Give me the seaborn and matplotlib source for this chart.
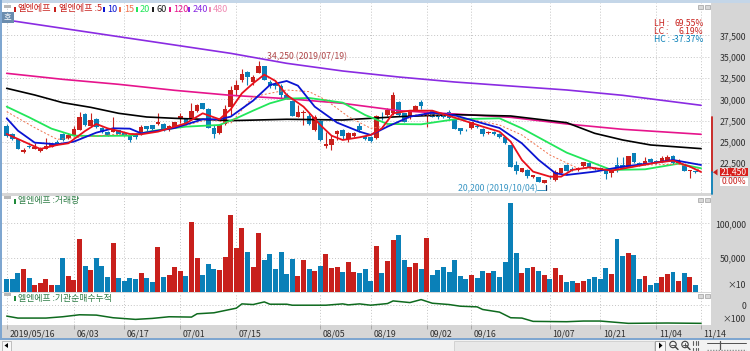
import matplotlib
matplotlib.use("Agg")
import matplotlib.pyplot as plt
from matplotlib.patches import Rectangle, Circle
import seaborn as sns

# --- DATA ---
opens = [26900,25900,25350,23800,24550,24200,24000,24200,24450,25050,25950,25450,25750,26450,28300,26850,27650,26650,26150,26200,
         26350,26050,25700,25950,25950,26850,26950,27100,27100,26500,26700,27650,27650,27700,28600,29550,28850,26650,26000,27150,
         29100,31150,32250,33200,32000,33100,33900,32000,31750,31550,30500,29850,27950,28450,28000,26400,27500,24550,24650,25900,
         26400,25300,25650,26900,25650,25600,25450,27950,28150,28350,29700,28350,27950,28700,29700,28150,28650,28200,28150,28550,
         27600,26600,26450,26650,26900,26500,26000,26200,25900,25550,24650,22250,21500,21750,20850,20900,20250,20800,20550,21400,
         22350,21850,21700,22200,22500,22000,21900,21700,21400,22250,22300,22100,23650,22500,22400,23050,22750,22700,22800,23350,
         22500,22300,21600,21600,21450]
highs = [27100,26000,25350,24250,24600,24850,24400,25450,24850,25250,26000,26000,26900,28550,28400,28350,27800,26700,26250,27950,
         26400,26100,25800,26000,27000,26900,27000,28350,27200,27000,27400,28350,27750,29600,29450,29600,28950,27000,27050,29350,
         31550,32250,33500,33300,32850,34500,33950,32250,32000,31800,30700,29900,29350,28750,28350,28150,27600,26200,25800,26400,
         26500,26200,26200,27200,25750,25700,28150,28550,28950,30800,29800,28450,28700,29350,29900,28550,28750,28300,28250,28800,
         27700,26650,26550,27400,27100,26600,26250,26300,26050,25700,24700,22800,21950,21850,21150,20950,20550,21000,21700,22000,
         22400,22050,22050,22650,22600,22100,22050,21850,21800,23200,23250,23400,23750,22700,23250,23150,22900,23300,23500,23450,
         22950,22400,21750,21650,21450]
lows = [25600,25250,24150,23700,24250,24150,23850,24150,24400,24700,25150,25300,25700,26400,26850,26800,26650,26100,25650,26150,
        25900,25750,25050,25350,25800,26300,26450,26950,26250,26300,26650,27200,27100,27550,28500,28850,26600,25450,25950,26950,
        28150,30500,32050,31700,31700,33050,32250,31300,31250,30100,30050,28050,27900,27000,27000,26300,25150,24250,24050,25250,
        25300,25050,25550,26200,25250,25050,25300,27600,28050,28150,28100,27300,27700,28650,28850,26800,27900,27750,27800,27750,
        26500,25950,26250,26550,26650,25700,25950,25800,25500,24800,22100,21250,21450,20750,20800,20300,20200,20650,20400,21350,
        21550,21550,21550,22100,22050,21700,21700,20650,20950,21500,21850,22050,22550,22200,22350,22650,22450,22600,22750,22450,
        22450,21600,20800,21350,21450]
closes = [25750,25300,24200,24100,24400,24450,24350,24550,24800,24750,25200,25850,26500,27950,27000,27550,26700,26150,25700,26600,
          25950,25800,25250,25550,26750,26550,26500,27300,26450,26900,27300,28050,27200,28650,29300,28850,26650,25950,26950,28850,
          31100,31650,33000,32650,32600,33900,32250,31550,31550,30500,30100,28100,28550,28550,27150,27950,25250,24750,25300,26300,
          25650,26000,26100,26400,25300,25150,28100,27900,28800,30450,28150,27400,28600,29250,29200,28350,27900,27950,27950,27800,
          26500,26300,26350,27350,26700,25950,26150,25950,25550,24900,22100,21600,21900,21000,21100,20300,20500,20750,21500,22000,
          21550,21700,22000,22600,22100,21850,21800,21250,21600,21850,21900,23350,22600,22300,22800,22700,22600,23150,23200,22500,
          22800,21600,21700,21450,21450]
# volume in thousands (axis shows x10)
volume = [18.4,19.4,27.2,33.0,20.4,10.7,13.6,18.4,10.7,9.7,50.0,23.3,17.5,76.6,37.3,31.5,49.0,38.3,21.3,71.8,
          20.4,15.5,20.4,19.4,27.2,20.4,14.6,65.5,21.3,25.2,35.9,30.1,23.3,102.8,49.0,24.3,41.2,33.0,32.0,50.9,
          113.0,64.5,93.1,58.7,35.9,86.3,47.0,55.8,33.0,58.7,26.2,48.0,23.3,47.0,33.0,30.1,37.3,54.8,34.9,35.9,
          29.1,44.1,29.1,28.1,33.0,15.5,67.4,28.1,45.1,75.2,83.4,46.1,35.9,42.2,34.0,78.6,25.2,31.5,35.9,29.1,
          47.0,23.3,19.4,25.2,20.4,30.1,28.1,30.6,21.3,43.2,130.5,56.7,27.2,34.9,35.9,30.1,25.2,18.4,34.9,25.2,
          14.6,15.5,13.6,16.5,19.4,21.3,18.4,34.9,26.2,77.1,51.9,56.7,53.8,19.4,23.3,10.7,13.6,22.3,26.2,29.1,
          16.5,28.1,22.3,10.7,0.0]

ma5_idx = [0,2,4,6,9,11,14,16,18,20,22,24,27,29,32,35,38,40,42,44,46,48,50,53,56,58,60,63,65,67,69,72,76,80,85,88,90,92,94,97,99,101,104,108,112,116,119,122,124]
ma5 = [25938,25352,24766,24180,24649,24844,26289,27110,26602,26289,25938,25899,26211,26602,27188,28360,27660,28828,30703,31875,32891,32149,30508,29141,26993,25742,25235,25547,25821,26602,28360,28672,28672,27852,26797,26211,25040,22891,21524,20938,20938,21719,22032,21641,22110,22579,22813,22110,21485]
ma10_idx = [0,2,5,9,12,16,19,22,24,27,30,35,38,40,44,47,50,52,55,59,63,65,68,72,76,80,85,88,92,95,98,100,105,110,115,119,124]
ma10 = [27774,26328,24922,24727,25040,26094,26602,26563,26016,26328,26641,27660,27660,27969,29844,31680,32149,31602,29141,27266,26211,25821,26797,27969,28438,28125,27188,26641,24844,22891,21329,21134,21524,22110,22501,22891,22305]
ma15_idx = [0,5,9,13,18,24,30,36,40,44,50,54,57,61,65,69,73,78,84,88,92,97,102,108,114,120,124]
ma15 = [28555,26680,25313,25547,25821,26016,26602,27660,27188,30313,31094,30899,29922,27969,26602,26993,28164,28164,27500,26993,25821,23477,21915,21719,22305,22383,21719]
ma20_idx = [0,4,8,12,16,22,26,32,38,41,44,47,50,54,60,64,68,74,80,88,92,100,108,114,120,124]
ma20 = [29141,27891,26563,25742,25700,25742,26290,26797,26993,27774,28672,29531,30079,30157,29610,28164,27110,27071,27660,27774,26602,23750,21719,21797,22462,21915]
ma60_idx = [0,5,10,15,20,25,30,35,40,50,60,70,80,90,100,105,110,115,124]
ma60 = [31289,30508,29610,29060,28360,27930,27774,27660,27500,27660,27578,27969,28204,28047,27266,26016,25235,24649,24220]
ma120_idx = [0,10,20,30,40,50,60,70,80,90,100,110,124]
ma120 = [33047,32344,31758,31055,30469,30079,29531,28672,28281,27891,27110,26485,25900]
ma240_idx = [0,10,20,30,40,50,60,70,80,90,100,110,124]
ma240 = [39296,38320,37344,36367,35390,34220,33320,32617,32030,31560,31094,30470,29300]

net_idx = [0,2,7,10,13,16,19,23,26,29,33,34,37,41,42,44,46,47,50,51,57,60,61,63,65,68,69,72,74,76,79,81,84,85,88,90,92,94,100,103,106,111,118,124]
net_buy = [-33,-39,-39,-35,-29,-30,-38,-43,-40,-35,-36,-26,-23,-9,4,2,10,3,3,0,0,4,1,4,0,5,13,8,17,6,2,-3,-5,-13,-21,-38,-39,-49,-50,-48,-48,-55,-54,-55]

date_idx = [0,12,21,31,41,56,65,75,83,97,106,116,124]
date_labels = ["2019/05/16","06/03","06/17","07/01","07/15","08/05","08/19","09/02","09/16","10/07","10/21","11/04","11/14"]
price_ticks = [22500,25000,27500,30000,32500,35000,37500]
vol_ticks = [50,100]

RED = "#c8201c"
BLUE = "#0a80b8"
GRID = "#c4c4c4"
W, H = 750, 351

sns.set_theme(style="white")
plt.rcParams['font.family'] = ['Noto Sans CJK KR', 'DejaVu Sans']

fig = plt.figure(figsize=(W / 100, H / 100), dpi=100, facecolor="#f2f2f2")

def px_axes(x0, y0, x1, y1):
    a = fig.add_axes([x0 / W, 1 - y1 / H, (x1 - x0) / W, (y1 - y0) / H])
    a.set_facecolor("white")
    for s in a.spines.values():
        s.set_visible(False)
    return a

# window chrome behind the panels
back = fig.add_axes([0, 0, 1, 1], zorder=0)
back.set_xlim(0, W); back.set_ylim(H, 0); back.axis("off")
back.add_patch(Rectangle((0, 0), W, 339, color="#d6d6d6", lw=0))
back.add_patch(Rectangle((0, 0), W, 3, color="#c4d6e8", lw=0))
back.add_patch(Rectangle((0, 0), 2, 339, color="#7ea6d0", lw=0))
back.add_patch(Rectangle((0, 338), W, 1.5, color="#7ea6d0", lw=0))

ax = px_axes(2, 3, 711, 193)
ax_vol = px_axes(2, 196, 711, 292)
ax_net = px_axes(2, 293, 711, 325)
for a in (ax, ax_vol, ax_net):
    a.set_zorder(1)

n = len(closes)
idx = list(range(n))
colors = [RED if c >= o else BLUE for o, c in zip(opens, closes)]

# --- PRICE PANEL ---
ax.vlines(idx, lows, highs, colors=colors, lw=0.8, zorder=3)
ax.bar(idx, [max(abs(c - o), 70) for o, c in zip(opens, closes)],
       bottom=[min(o, c) for o, c in zip(opens, closes)], width=0.84, color=colors, lw=0, zorder=3)
ma_specs = [(ma240_idx, ma240, "#8a2be2", "-", 1.2), (ma120_idx, ma120, "#e6148c", "-", 1.2),
            (ma60_idx, ma60, "#000000", "-", 1.2), (ma20_idx, ma20, "#22e65a", "-", 1.3),
            (ma15_idx, ma15, "#f0704a", (0, (2, 2)), 0.7), (ma10_idx, ma10, "#0a14d2", "-", 1.3),
            (ma5_idx, ma5, "#e8101c", "-", 1.3)]
for k, (xs, ys, col, ls, lw) in enumerate(ma_specs):
    sns.lineplot(x=xs, y=ys, color=col, linestyle=ls, linewidth=lw, errorbar=None, ax=ax, zorder=4 + k)
ax.set_ylim(19020, 41290)
ax.set_yticks(price_ticks)
ax.set_yticklabels([f"{p:,}" for p in price_ticks])

# --- VOLUME PANEL ---
sns.barplot(x=idx, y=volume, hue=["up" if c == RED else "down" for c in colors],
            palette={"up": RED, "down": BLUE}, dodge=False, legend=False, width=0.86,
            saturation=1, linewidth=0, ax=ax_vol, zorder=3)
ax_vol.set_ylim(0, 140)
ax_vol.set_yticks(vol_ticks)
ax_vol.set_yticklabels(["50,000", "100,000"])

# --- NET BUYING PANEL ---
sns.lineplot(x=net_idx, y=net_buy, color="#0e6a1e", linewidth=1.1, errorbar=None, ax=ax_net, zorder=3)
ax_net.set_ylim(-60, 37)
ax_net.set_yticks([0])
ax_net.set_yticklabels(["0"])

for a in (ax, ax_vol, ax_net):
    a.set_xlim(-0.84, 125.77)
    a.set_xticks(date_idx)
    a.grid(True, color=GRID, linestyle=(0, (1, 2)), linewidth=0.7, zorder=0)
    a.set_axisbelow(True)
    a.yaxis.tick_right()
    a.tick_params(axis="y", length=0, pad=25.5, labelsize=6.3, labelcolor="#303030")
    for lab in a.get_yticklabels():
        lab.set_ha("right")
    a.set_xlabel(""); a.set_ylabel("")
ax.tick_params(axis="x", length=0, labelbottom=False)
ax_vol.tick_params(axis="x", length=0, labelbottom=False)
ax_net.set_xticklabels(date_labels)
ax_net.tick_params(axis="x", length=3, width=0.7, color="#a8a8a8", pad=0.5, labelsize=6.3, labelcolor="#303030")
ax_net.tick_params(axis="x", bottom=True)
for lab in ax_net.get_xticklabels():
    lab.set_ha("left")
    lab.set_transform(lab.get_transform() + matplotlib.transforms.ScaledTranslation(2.5 / 100, 0, fig.dpi_scale_trans))

# --- OVERLAY TEXT AND CONTROLS ---
top = fig.add_axes([0, 0, 1, 1], zorder=5)
top.set_xlim(0, W); top.set_ylim(H, 0); top.axis("off"); top.patch.set_alpha(0)

legend_items = [(15, 17.5, "엘엔에프", "#c8201c"), (55, 59, "엘엔에프 :5", "#c8201c"), (104, 107.5, "10", "#0a14d2"),
                (120, 124, "15", "#f0704a"), (136.5, 140, "20", "#22e65a"), (152.5, 156.5, "60", "#202020"),
                (170, 173.5, "120", "#e6148c"), (189, 192.5, "240", "#8a2be2"), (209.5, 213, "480", "#f08cb4")]
for bx, tx, label, col in legend_items:
    top.add_patch(Rectangle((bx - 0.8, 6.5), 2, 5, color=col, lw=0))
    top.text(tx, 9, label, color=col, fontsize=6.6, va="center", ha="left")

for y, label in [(201, "엘엔에프 :거래량"), (298.5, "엘엔에프 :기관순매수누적")]:
    top.add_patch(Rectangle((14.2, y - 2.5), 2, 5, color="#1f8a3a", lw=0))
    top.text(17.5, y, label, color="#2e7d46", fontsize=6.4, va="center", ha="left")

# small window buttons
for bx, by, bw in [(4, 4.5, 7), (4, 195.5, 7), (4, 293, 7)]:
    top.add_patch(Rectangle((bx, by), bw, 3, color="#b8b8b8", lw=0))
for by in (5, 197.5, 294):
    top.add_patch(Rectangle((698, by), 5, 4, fc="#d8d8d8", ec="#a0a0a0", lw=0.5))
    top.add_patch(Rectangle((705, by), 5, 4, fc="#d8d8d8", ec="#a0a0a0", lw=0.5))
top.add_patch(Rectangle((2, 11.5), 11.5, 11, color="#6a8cae", lw=0))
top.text(7.8, 17, "호", color="white", fontsize=6, ha="center", va="center")

for y, t1, t2, col in [(24, "LH :", "69.55%", RED), (32, "LC :", "6.19%", RED), (40, "HC :", "-37.37%", BLUE)]:
    top.text(654.5, y, t1, color=col, fontsize=6.2, va="center", ha="left")
    top.text(703.5, y, t2, color=col, fontsize=6.2, va="center", ha="right")

top.text(267, 57, "34,250 (2019/07/19)", color="#b0484a", fontsize=6.3, va="center", ha="left")
top.text(458, 188.5, "20,200 (2019/10/04)", color="#3a96c4", fontsize=6.3, va="center", ha="left")
top.plot([537, 545], [190, 190], color="#3a96c4", lw=0.7)
top.plot([546, 546], [190, 185], color="#0a3060", lw=0.9)

# last price marker on the right band
top.plot([711.8, 711.8], [117, 172], color=RED, lw=1.3)
top.plot([711.8, 711.8], [172, 194], color=BLUE, lw=1.3)
top.fill([713, 717.5, 717.5], [172.3, 169, 175.5], color=RED, lw=0)
top.add_patch(Rectangle((719.5, 168), 28, 8, color="#d8201c", lw=0))
top.text(746.5, 172, "21,450", color="white", fontsize=6.2, va="center", ha="right")
top.add_patch(Rectangle((719.5, 177.5), 28, 8, color="white", lw=0))
top.text(746.5, 181.5, "0.00%", color=RED, fontsize=6.2, va="center", ha="right")
top.text(746, 286, "×10", color="#303030", fontsize=6.3, va="center", ha="right")
top.text(746, 319, "×100", color="#303030", fontsize=6.3, va="center", ha="right")

# bottom tool row
top.add_patch(Rectangle((2, 341), 9, 10, fc="#f8f8f8", ec="#a8a8a8", lw=0.5))
top.fill([4.5, 8, 8], [345.5, 343, 348], color="black", lw=0)
top.add_patch(Rectangle((454, 341), 200, 10, fc="#e8e8e8", ec="#c8c8c8", lw=0.5))
top.add_patch(Rectangle((655, 341), 10, 10, fc="#f8f8f8", ec="#808080", lw=0.5))
top.fill([659, 662.5, 659], [342.5, 345.5, 348.5], color="black", lw=0)
for cx in (673, 685):
    top.add_patch(Circle((cx, 344.5), 3.2, fc="none", ec="#404040", lw=0.8))
    top.plot([cx + 2.2, cx + 5], [346.7, 349.5], color="#404040", lw=1)
    top.plot([cx - 1.7, cx + 1.7], [344.5, 344.5], color="#404040", lw=0.6)
top.plot([685, 685], [342.8, 346.2], color="#404040", lw=0.6)
for gx in (693, 695.5, 698):
    top.plot([gx, gx], [341, 345], color="#606060", lw=0.8)
    top.plot([gx, gx], [348, 350], color="#606060", lw=0.8)
top.plot([707, 746], [343, 343], color="#505050", lw=0.7)
top.plot([720, 720], [341, 349], color="#505050", lw=0.9)
top.plot([707, 746], [350, 350], color="#909090", lw=1, linestyle=(0, (1, 1)))

fig.savefig("out.png", dpi=100, facecolor=fig.get_facecolor())
